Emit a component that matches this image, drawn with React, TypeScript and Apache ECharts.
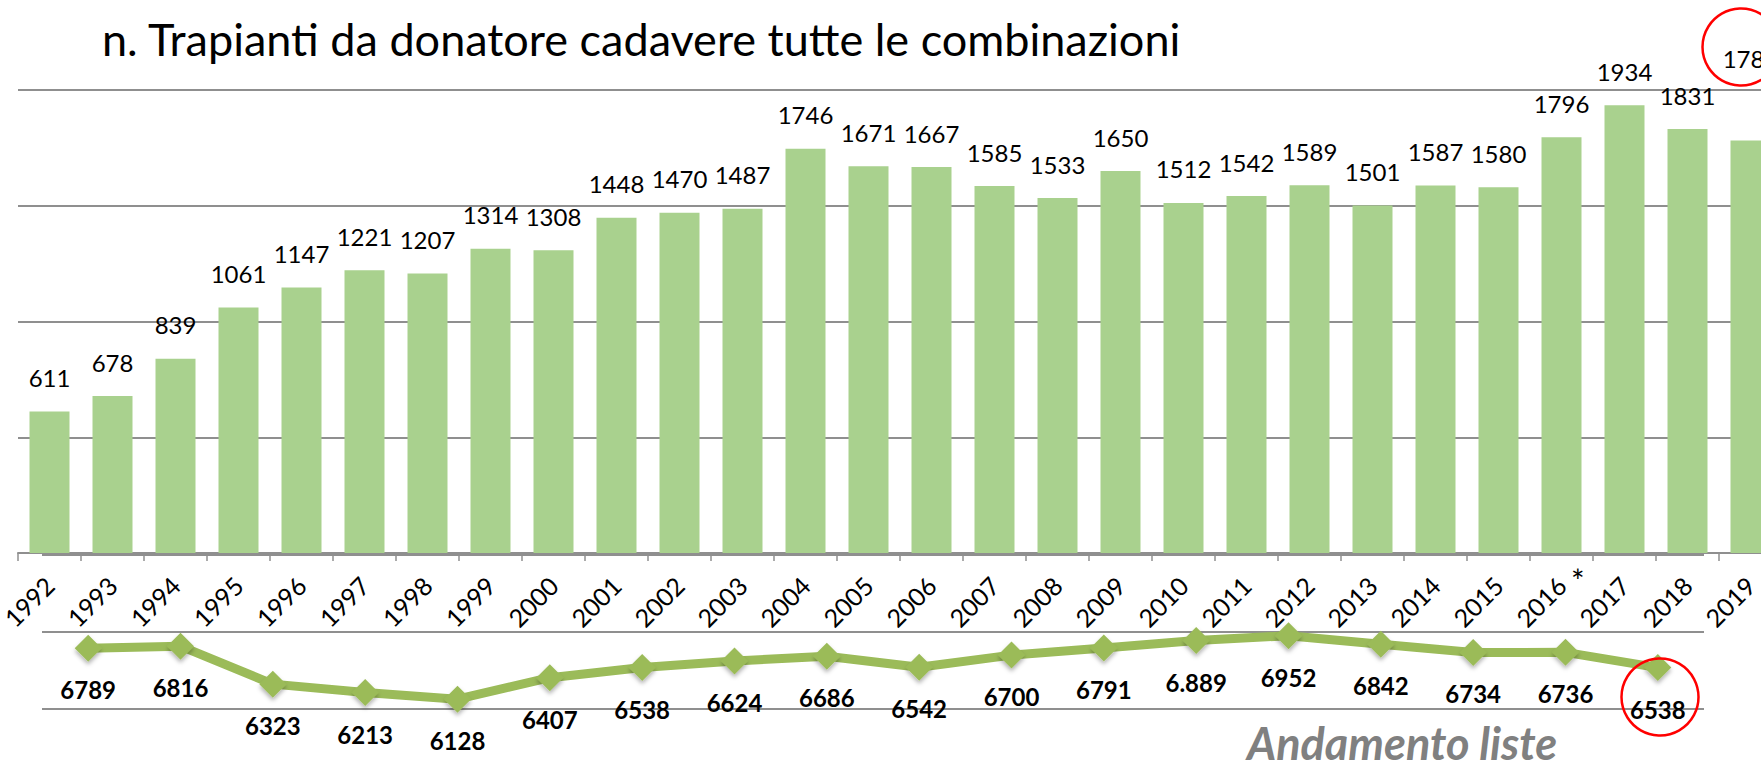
import React, { useEffect, useRef } from "react";
import * as echarts from "echarts";

const years = [
  "1992", "1993", "1994", "1995", "1996", "1997", "1998", "1999", "2000",
  "2001", "2002", "2003", "2004", "2005", "2006", "2007", "2008", "2009",
  "2010", "2011", "2012", "2013", "2014", "2015", "2016", "2017", "2018", "2019",
];
const transplants = [
  611, 678, 839, 1061, 1147, 1221, 1207, 1314, 1308, 1448, 1470, 1487, 1746,
  1671, 1667, 1585, 1533, 1650, 1512, 1542, 1589, 1501, 1587, 1580, 1796, 1934,
  1831, 1782,
];
const barTicks = [0, 500, 1000, 1500, 2000];

const listYears = [
  "2001", "2002", "2003", "2004", "2005", "2006", "2007", "2008", "2009",
  "2010", "2011", "2012", "2013", "2014", "2015", "2016", "2017", "2018",
];
const listValues = [
  6789, 6816, 6323, 6213, 6128, 6407, 6538, 6624, 6686, 6542, 6700, 6791, 6889,
  6952, 6842, 6734, 6736, 6538,
];
const listLabelText = [
  "6789", "6816", "6323", "6213", "6128", "6407", "6538", "6624", "6686",
  "6542", "6700", "6791", "6.889", "6952", "6842", "6734", "6736", "6538",
];
const listTicks = [6000, 7000, 8000];

const TITLE = "n. Trapianti da donatore cadavere tutte le combinazioni";
const SUBTITLE = "Andamento liste";
const FONT = "Lato, 'Noto Sans', sans-serif";
const GRID_COLOR = "#8f8f8f";

export default function App() {
  const ref = useRef<HTMLDivElement>(null);

  useEffect(() => {
    if (!ref.current) return;
    const chart = echarts.init(ref.current, undefined, { renderer: "svg" });

    const barData = transplants.map((v, i) =>
      i === transplants.length - 1
        ? { value: v, label: { distance: 70 } }
        : { value: v }
    );

    const option = {
      animation: false,
      backgroundColor: "#ffffff",
      textStyle: { fontFamily: FONT },
      grid: [
        {
          left: 18,
          top: 90,
          width: 1764,
          height: 463,
          containLabel: false,
          outerBoundsMode: "none",
        },
        {
          left: 42,
          top: 555,
          width: 1662,
          height: 154,
          containLabel: false,
          outerBoundsMode: "none",
        },
      ],
      xAxis: [
        {
          type: "category",
          gridIndex: 0,
          data: years,
          boundaryGap: true,
          axisLine: { show: true, lineStyle: { color: GRID_COLOR, width: 2 } },
          axisTick: {
            show: true,
            interval: 0,
            length: 8,
            lineStyle: { color: GRID_COLOR, width: 1.5 },
          },
          axisLabel: {
            interval: 0,
            rotate: 45,
            margin: 28,
            color: "#000",
            fontSize: 25,
            fontFamily: FONT,
            hideOverlap: false,
          },
        },
        {
          type: "category",
          gridIndex: 1,
          data: listYears,
          boundaryGap: true,
          show: false,
        },
      ],
      yAxis: [
        {
          type: "value",
          gridIndex: 0,
          min: barTicks[0],
          max: barTicks[barTicks.length - 1],
          interval: barTicks[1] - barTicks[0],
          axisLine: { show: false },
          axisTick: { show: false },
          axisLabel: { show: false },
          splitLine: { show: true, lineStyle: { color: GRID_COLOR, width: 2 } },
        },
        {
          type: "value",
          gridIndex: 1,
          min: listTicks[0],
          max: listTicks[listTicks.length - 1],
          interval: listTicks[1] - listTicks[0],
          axisLine: { show: false },
          axisTick: { show: false },
          axisLabel: { show: false },
          splitLine: { show: true, lineStyle: { color: GRID_COLOR, width: 2 } },
        },
      ],
      series: [
        {
          type: "bar",
          xAxisIndex: 0,
          yAxisIndex: 0,
          data: barData,
          barWidth: 40,
          itemStyle: { color: "#a9d18e" },
          label: {
            show: true,
            position: "top",
            distance: 22,
            color: "#000",
            fontSize: 24,
            fontFamily: FONT,
          },
          z: 3,
        },
        {
          type: "line",
          xAxisIndex: 1,
          yAxisIndex: 1,
          data: listValues,
          symbol: "diamond",
          symbolSize: 27,
          lineStyle: { color: "#9bbb59", width: 9 },
          itemStyle: {
            color: "#9bbb59",
            shadowBlur: 4,
            shadowColor: "rgba(0,0,0,0.3)",
            shadowOffsetY: 3,
          },
          label: {
            show: true,
            position: "bottom",
            distance: 16,
            color: "#000",
            fontWeight: "bold",
            fontSize: 24,
            fontFamily: FONT,
            formatter: (p: any) => listLabelText[p.dataIndex],
          },
          z: 4,
        },
      ],
      graphic: [
        {
          type: "text",
          x: 102,
          y: 39,
          style: {
            text: TITLE,
            fontSize: 45,
            fontFamily: FONT,
            fill: "#000",
            verticalAlign: "middle",
          },
        },
        {
          type: "text",
          x: 1247,
          y: 743,
          style: {
            text: SUBTITLE,
            fontSize: 45,
            fontWeight: "bold",
            fontStyle: "italic",
            fontFamily: FONT,
            fill: "#808080",
            verticalAlign: "middle",
          },
        },
        {
          type: "text",
          x: 1571,
          y: 580,
          style: {
            text: "*",
            fontSize: 32,
            fontFamily: FONT,
            fill: "#000",
            verticalAlign: "middle",
          },
        },
        {
          type: "circle",
          shape: { cx: 1741, cy: 47, r: 38.5 },
          style: { fill: "none", stroke: "#ff0000", lineWidth: 2.5 },
          z: 10,
        },
        {
          type: "circle",
          shape: { cx: 1660, cy: 697, r: 38.5 },
          style: { fill: "none", stroke: "#ff0000", lineWidth: 2.5 },
          z: 10,
        },
      ],
    };

    chart.setOption(option as any);
    return () => chart.dispose();
  }, []);

  return (
    <div
      ref={ref}
      style={{
        position: "absolute",
        left: 0,
        top: 0,
        width: 1761,
        height: 767,
        background: "#fff",
      }}
    />
  );
}
